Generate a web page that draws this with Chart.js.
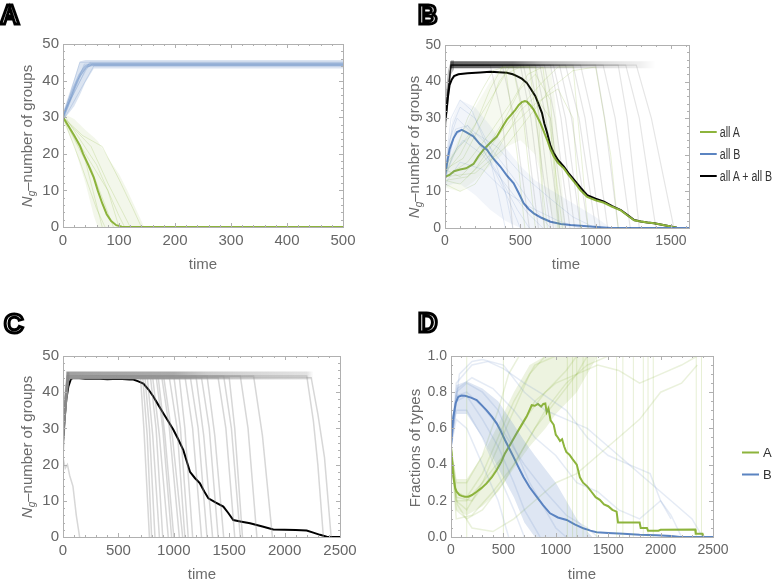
<!DOCTYPE html>
<html><head><meta charset="utf-8">
<script src="https://cdn.jsdelivr.net/npm/chart.js@4.4.1/dist/chart.umd.min.js"></script>
<style>
body{margin:0;background:#fff;width:778px;height:583px;position:relative;overflow:hidden;font-family:"Liberation Sans",Arial,sans-serif;}
canvas{position:absolute;}
.letter{position:absolute;font-weight:bold;font-size:27px;line-height:27px;color:#fff;-webkit-text-stroke:3px #000;}
.ytitle{position:absolute;transform:translate(-50%,-50%) rotate(-90deg);white-space:nowrap;color:#6b6b6b;font-size:15px;}
.ytitle sub{font-size:10px;font-style:italic;vertical-align:-3px;}
.xtitle{position:absolute;transform:translate(-50%,-50%);white-space:nowrap;color:#6b6b6b;font-size:15px;}
.leg{position:absolute;font-size:13px;color:#333;white-space:nowrap;transform:translateY(-50%);}
.leg span{display:inline-block;width:17px;height:2px;vertical-align:middle;margin-right:4px;position:relative;top:-1px;}
.leg.narrow{font-size:14px;transform:translateY(-50%) scaleX(0.76);transform-origin:left center;}
.leg.narrow span{width:22px;}
</style></head><body>
<canvas id="cA" width="390" height="290" style="left:0;top:0"></canvas>
<canvas id="cB" width="388" height="290" style="left:390px;top:0"></canvas>
<canvas id="cC" width="390" height="293" style="left:0;top:290px"></canvas>
<canvas id="cD" width="388" height="293" style="left:390px;top:290px"></canvas>

<div class="letter" style="left:0px;top:2px">A</div>
<div class="letter" style="left:418px;top:2px">B</div>
<div class="letter" style="left:4px;top:311px">C</div>
<div class="letter" style="left:418px;top:310px">D</div>

<div class="ytitle" style="left:27px;top:136px"><i>N</i><sub>g</sub>–number of groups</div>
<div class="ytitle" style="left:414px;top:147px"><i>N</i><sub>g</sub>–number of groups</div>
<div class="ytitle" style="left:27px;top:447px"><i>N</i><sub>g</sub>–number of groups</div>
<div class="ytitle" style="left:414px;top:448px">Fractions of types</div>

<div class="xtitle" style="left:203px;top:263px">time</div>
<div class="xtitle" style="left:566px;top:263px">time</div>
<div class="xtitle" style="left:202px;top:573px">time</div>
<div class="xtitle" style="left:582px;top:573px">time</div>

<div class="leg narrow" style="left:700px;top:132px"><span style="background:#8db43c"></span>all A</div>
<div class="leg narrow" style="left:700px;top:154px"><span style="background:#5b84c1"></span>all B</div>
<div class="leg narrow" style="left:700px;top:176px"><span style="background:#000"></span>all A + all B</div>
<div class="leg" style="left:742px;top:452px"><span style="background:#8db43c"></span>A</div>
<div class="leg" style="left:742px;top:474px"><span style="background:#5b84c1"></span>B</div>

<script>
// ---------------- Tick values ----------------
const aTimeTicks = [0,100,200,300,400,500];
const aTimeMinor = [20,40,60,80,120,140,160,180,220,240,260,280,320,340,360,380,420,440,460,480];
const groupTicks = [0,10,20,30,40,50];
const groupMinor = [2,4,6,8,12,14,16,18,22,24,26,28,32,34,36,38,42,44,46,48];
const bTimeTicks = [0,500,1000,1500];
const bTimeMinor = [100,200,300,400,600,700,800,900,1100,1200,1300,1400,1600];
const cdTimeTicks = [0,500,1000,1500,2000,2500];
const cdTimeMinor = [100,200,300,400,600,700,800,900,1100,1200,1300,1400,1600,1700,1800,1900,2100,2200,2300,2400];
const fracTicks = [0,0.2,0.4,0.6,0.8,1.0];
const fracMinor = [0.05,0.1,0.15,0.25,0.3,0.35,0.45,0.5,0.55,0.65,0.7,0.75,0.85,0.9,0.95];

// ---------------- Panel A ----------------
const aGreenMean = [[0,30],[10,27.5],[20,25],[30,22.3],[36,20],[45,17],[55,13.5],[62,10],[70,6.5],[78,3.5],[86,1.6],[95,0.5],[105,0.1],[115,0],[500,0]];
const aBlueMean = [[0,30],[10,34],[20,38],[30,41.5],[40,43.8],[50,44.4],[500,44.4]];
// band rows: [time, low, high]
const aBlueBand = [[0,29.3,31.5],[10,31,36],[20,33,40.5],[30,36,45.2],[40,39.5,45.6],[55,43.3,45.6],[500,43.3,45.6]];
const aBlueRuns = [
  [[0,30],[30,45],[500,45]],
  [[0,30],[38,44.5],[500,44.5]],
  [[0,31],[45,44],[500,44]],
  [[0,29],[55,44],[500,44]],
  [[0,30],[25,40],[48,45],[500,45]],
  [[0,30],[15,35],[40,43],[52,44.5],[500,44.5]]
];
const aGreenBand = [[0,29,31],[20,22,29.5],[40,12,26.5],[55,3,24.5],[62,0,23.5],[80,0,19],[100,0,14.5],[115,0,10],[130,0,5],[145,0,0]];
const aGreenRuns = [
  [[0,30],[40,18],[70,0]],
  [[0,30],[50,16],[90,0]],
  [[0,31],[60,17],[100,3],[110,0]],
  [[0,30],[35,25],[70,22],[100,13],[125,5],[140,0]],
  [[0,30],[80,10],[100,0]],
  [[0,30],[30,18],[60,5],[75,0]],
  [[0,30],[50,22],[80,12],[120,0]]
];

// ---------------- Panel B ----------------
const bTotalMean = [[0,29],[10,32],[20,36],[30,39],[44,40.5],[60,41.5],[89,42],[150,42.3],[233,42.5],[300,42.7],[411,42.4],[450,42],[478,41.5],[510,40.8],[544,39.6],[570,38],[600,36],[622,33.8],[644,31.4],[660,28.5],[678,26],[700,22.5],[722,20.5],[750,18.6],[789,16.8],[820,15],[856,13.2],[900,11],[944,9],[1000,8],[1056,7.2],[1110,6],[1167,4.9],[1210,3.6],[1256,2.2],[1300,1.8],[1344,1.5],[1389,1.3],[1440,0.9],[1500,0.4],[1540,0.1],[1567,0],[1620,0]];
const bAllAMean = [[0,14],[30,14.5],[60,15.5],[100,16],[140,16.3],[189,17.5],[220,19.5],[256,21.4],[300,23.3],[344,25],[380,27.5],[411,29.6],[440,31],[467,32.3],[490,33.6],[511,34.4],[530,34.7],[544,34.5],[565,33.6],[589,32.3],[610,30.6],[633,28.7],[655,26.5],[678,24.1],[700,21.5],[722,19.5],[750,17.8],[789,16.3],[820,14.5],[856,12.7],[900,10.3],[944,8.5],[1000,7.6],[1056,6.9],[1110,5.8],[1167,4.8],[1210,3.5],[1256,2.1],[1300,1.8],[1344,1.5],[1389,1.3],[1440,0.9],[1500,0.4],[1540,0.1],[1567,0],[1620,0]];
const bAllBMean = [[0,14],[15,18],[30,21.5],[56,24.5],[80,26.2],[111,26.8],[140,26.2],[189,25],[230,23],[278,21.4],[320,19],[367,16.8],[410,14.4],[456,12.2],[490,9.5],[522,6.8],[555,5.2],[589,4],[640,2.8],[700,1.7],[770,1.1],[833,0.8],[900,0.6],[967,0.4],[1030,0.2],[1100,0],[1620,0]];
const bTotalRuns = [
  [[0,30],[40,44.5],[300,44.5],[380,30],[450,0]],
  [[0,27],[40,44.5],[380,44.5],[460,30],[560,0]],
  [[0,32],[40,44.5],[450,44.5],[530,30],[620,0]],
  [[0,28],[40,44.5],[500,44.5],[570,30],[660,0]],
  [[0,31],[40,44.5],[520,44.5],[600,30],[700,0]],
  [[0,29],[40,44.5],[560,44.5],[630,30],[720,0]],
  [[0,30],[40,44.5],[600,44.5],[670,30],[760,0]],
  [[0,26],[40,44.5],[630,44.5],[700,30],[800,0]],
  [[0,33],[40,44.5],[660,44.5],[730,30],[830,0]],
  [[0,30],[40,44.5],[700,44.5],[770,30],[860,0]],
  [[0,28],[40,44.5],[720,44.5],[800,30],[900,0]],
  [[0,31],[40,44.5],[760,44.5],[840,30],[950,0]],
  [[0,29],[40,44.5],[800,44.5],[890,30],[1000,0]],
  [[0,30],[40,44.5],[850,44.5],[930,30],[1030,0]],
  [[0,27],[40,44.5],[900,44.5],[980,30],[1080,0]],
  [[0,30],[40,44.5],[1000,44.5],[1060,30],[1150,0]],
  [[0,32],[40,44.5],[1050,44.5],[1130,30],[1230,0]],
  [[0,29],[40,44.5],[1150,44.5],[1210,30],[1290,0]],
  [[0,30],[40,44.5],[1200,44.5],[1290,30],[1400,0]],
  [[0,28],[40,44.5],[1270,44.5],[1370,30],[1520,0]]
];
const bTotalStartBand = [[0,24,35],[20,33,43],[40,42,45.8],[60,43.3,45.8]];
const bAllARuns = [
  [[0,15],[100,20],[200,28],[300,38],[380,44],[450,44],[520,30],[600,0]],
  [[0,14],[150,18],[300,26],[450,35],[550,42],[650,44],[720,20],[780,0]],
  [[0,16],[100,14],[250,20],[400,30],[500,38],[600,42],[700,35],[760,0]],
  [[0,13],[100,12],[200,16],[350,25],[500,33],[650,40],[750,44],[850,44],[950,0]],
  [[0,15],[80,22],[150,30],[250,38],[320,43],[400,44],[480,20],[530,0]],
  [[0,14],[200,15],[400,22],[550,30],[700,38],[850,43],[1000,44],[1100,20],[1150,0]],
  [[0,17],[150,25],[300,35],[400,42],[500,44],[600,44],[650,10],[680,0]],
  [[0,12],[100,10],[200,12],[300,18],[400,25],[500,32],[600,36],[700,30],[750,0]],
  [[0,16],[120,19],[260,30],[360,40],[430,44],[560,44],[620,25],[660,0]],
  [[0,13],[150,14],[300,20],[450,28],[600,34],[750,38],[850,30],[900,0]]
];
const bAllABand = [[0,11,17],[100,10,25],[200,13,33],[300,17,40],[380,20,44],[400,22,44],[500,24,44],[600,20,44],[700,5,44],[730,0,35],[760,0,20],[800,0,0]];
const bAllBRuns = [
  [[0,15],[50,28],[100,33],[200,30],[300,22],[400,10],[450,0]],
  [[0,14],[60,25],[150,28],[300,22],[450,14],[600,5],[700,0]],
  [[0,13],[50,20],[120,24],[250,20],[400,12],[550,4],[650,0]],
  [[0,16],[40,30],[100,35],[180,32],[280,22],[350,10],[400,0]],
  [[0,14],[80,22],[200,26],[350,22],[500,15],[700,8],[850,3],[1000,0]],
  [[0,15],[70,27],[150,28],[300,18],[420,8],[500,0]],
  [[0,12],[100,18],[250,16],[400,10],[550,6],[750,2],[900,0]],
  [[0,15],[30,24],[80,30],[200,25],[350,15],[480,5],[560,0]]
];
const bAllBBand = [[0,11,17],[50,12,30],[100,12,35],[200,9,33],[300,5,28],[400,2,22],[500,0,17],[600,0,13],[800,0,8],[1000,0,3],[1100,0,0]];

// ---------------- Panel C ----------------
const cMean = [[0,26.3],[15,33],[30,38],[48,41.5],[70,43.5],[93,44.1],[200,43.7],[300,43.8],[400,43.6],[500,43.7],[600,43.5],[635,43.5],[680,43],[725,42.4],[770,40.8],[815,38.8],[860,36.5],[905,34.2],[950,32],[996,29.6],[1040,27],[1086,24],[1116,21],[1146,18],[1190,16.3],[1236,14.8],[1275,12.6],[1312,10.7],[1380,9.5],[1447,8.4],[1490,6.7],[1537,4.7],[1600,4.3],[1688,3.8],[1800,2.9],[1898,2.1],[2000,2.0],[2100,1.9],[2199,1.8],[2259,1.2],[2320,0.6],[2380,0.1],[2440,0],[2500,0]];
const cRuns = [
  [[0,30],[45,44.5],[700,44],[730,30],[780,0]],
  [[0,28],[50,44.5],[720,44],[760,28],[800,0]],
  [[0,25],[45,44],[740,44],[780,30],[830,0]],
  [[0,32],[40,44.5],[760,44.5],[810,28],[870,0]],
  [[0,27],[50,44],[790,44],[840,30],[900,0]],
  [[0,30],[45,44.5],[810,44],[870,28],[950,0]],
  [[0,29],[45,44.5],[840,44.5],[900,30],[980,0]],
  [[0,31],[40,44],[860,44],[920,28],[1000,0]],
  [[0,26],[50,44.5],[890,44.5],[960,30],[1050,0]],
  [[0,30],[45,44],[910,44],[990,27],[1080,0]],
  [[0,28],[45,44.5],[960,44],[1030,30],[1100,0]],
  [[0,33],[40,44.5],[1000,44.5],[1060,30],[1130,0]],
  [[0,27],[45,44],[1050,44],[1100,30],[1170,0]],
  [[0,30],[45,44.5],[1100,44.5],[1170,30],[1250,0]],
  [[0,29],[45,44],[1150,44],[1220,30],[1300,0]],
  [[0,31],[40,44.5],[1200,44.5],[1270,28],[1350,0]],
  [[0,28],[45,44],[1250,44],[1320,30],[1400,0]],
  [[0,30],[45,44.5],[1300,44.5],[1370,28],[1450,0]],
  [[0,27],[50,44],[1400,44],[1470,30],[1550,0]],
  [[0,30],[45,44.5],[1450,44.5],[1520,30],[1600,0]],
  [[0,29],[45,44],[1500,44],[1550,30],[1620,0]],
  [[0,31],[40,44.5],[1600,44.5],[1670,30],[1750,0]],
  [[0,28],[45,44],[1720,44.5],[1800,28],[1890,0]],
  [[0,30],[45,44.5],[2200,44.5],[2260,32],[2300,20],[2350,0]],
  [[0,29],[45,44],[2240,44],[2300,34],[2360,22],[2420,0]],
  [[0,22],[20,19],[40,20],[60,17],[90,14],[120,6],[150,0]]
];
const cStartBand = [[0,18,35],[20,30,42],[35,38,45.5],[60,43.5,45.5]];

// ---------------- Panel D ----------------
const dAMean = [[0,0.5],[10,0.42],[22,0.333],[40,0.27],[54,0.25],[80,0.232],[102,0.227],[130,0.222],[165,0.223],[200,0.232],[245,0.25],[290,0.27],[340,0.296],[390,0.33],[436,0.37],[480,0.415],[515,0.462],[570,0.515],[627,0.573],[680,0.625],[722,0.665],[770,0.728],[800,0.725],[830,0.735],[860,0.72],[881,0.735],[900,0.738],[913,0.69],[930,0.71],[950,0.645],[980,0.62],[1000,0.565],[1020,0.55],[1040,0.53],[1060,0.54],[1080,0.5],[1100,0.47],[1130,0.455],[1160,0.43],[1200,0.40],[1230,0.33],[1260,0.30],[1300,0.28],[1340,0.25],[1380,0.22],[1420,0.205],[1460,0.18],[1500,0.17],[1540,0.15],[1580,0.14],[1594,0.08],[1800,0.08],[1810,0.05],[1870,0.05],[1880,0.035],[1980,0.035],[2000,0.04],[2330,0.042],[2335,0.018],[2400,0.018],[2410,0],[2500,0]];
const dBMean = [[0,0.5],[10,0.6],[22,0.665],[45,0.74],[70,0.775],[100,0.782],[134,0.78],[190,0.77],[245,0.757],[290,0.73],[340,0.70],[390,0.665],[436,0.628],[475,0.585],[515,0.536],[555,0.49],[595,0.444],[640,0.39],[690,0.333],[750,0.275],[817,0.223],[880,0.175],[945,0.131],[1020,0.108],[1104,0.094],[1180,0.07],[1263,0.048],[1330,0.035],[1390,0.026],[1500,0.022],[1644,0.018],[1800,0.013],[1962,0.01],[2100,0.005],[2185,0],[2500,0]];
const dBRuns = [
  [[0,0.5],[50,0.8],[150,0.85],[300,0.8],[450,0.7],[600,0.5],[750,0.3],[900,0.15],[1000,0.05],[1100,0]],
  [[0,0.5],[50,0.75],[150,0.78],[300,0.65],[450,0.5],[600,0.3],[700,0.15],[800,0.05],[850,0]],
  [[0,0.5],[50,0.85],[200,0.95],[350,0.97],[500,0.93],[700,0.85],[900,0.78],[1100,0.7],[1300,0.55],[1500,0.45],[1700,0.4],[1900,0.3],[2100,0.2],[2300,0.1],[2400,0]],
  [[0,0.5],[50,0.7],[150,0.7],[300,0.55],[450,0.35],[600,0.15],[700,0]],
  [[0,0.5],[60,0.82],[200,0.88],[400,0.82],[600,0.7],[800,0.55],[1000,0.45],[1200,0.3],[1400,0.25],[1600,0.15],[1800,0.1],[2000,0.2],[2100,0.12],[2200,0]],
  [[0,0.5],[50,0.78],[150,0.8],[300,0.72],[500,0.58],[700,0.4],[900,0.25],[1100,0.12],[1300,0.05],[1400,0]],
  [[0,0.5],[50,0.65],[150,0.6],[300,0.4],[450,0.2],[550,0]],
  [[0,0.5],[80,0.9],[200,0.97],[300,0.98],[500,0.95],[700,0.8],[900,0.7],[1100,0.65],[1300,0.6],[1500,0.5],[1700,0.4],[1900,0.35],[2000,0.2],[2100,0.1]]
];
const dARuns = [
  [[0,0.5],[50,0.2],[150,0.15],[300,0.3],[450,0.5],[600,0.7],[750,0.9],[900,1]],
  [[0,0.5],[50,0.25],[150,0.22],[300,0.35],[450,0.55],[600,0.75],[800,0.95],[1000,1]],
  [[0,0.5],[50,0.15],[150,0.1],[300,0.15],[500,0.3],[700,0.5],[900,0.7],[1100,0.85],[1300,0.95],[1500,1]],
  [[0,0.5],[50,0.3],[150,0.3],[300,0.45],[450,0.7],[550,0.9],[650,1]],
  [[0,0.5],[60,0.18],[200,0.05],[400,0.03],[600,0.1],[800,0.2],[1000,0.3],[1200,0.35],[1400,0.45],[1600,0.55],[1800,0.65],[2000,0.8],[2200,0.85],[2350,0.95]],
  [[0,0.5],[50,0.22],[200,0.2],[400,0.35],[600,0.55],[800,0.75],[1000,0.85],[1200,0.9],[1400,0.95],[1600,0.92],[1800,0.85],[2000,0.9],[2200,0.95],[2350,1]],
  [[0,0.5],[50,0.1],[200,0.12],[400,0.25],[600,0.4],[800,0.6],[1000,0.75],[1200,0.9],[1300,1]],
  [[0,0.5],[50,0.2],[150,0.2],[300,0.3],[500,0.45],[700,0.65],[900,0.8],[1100,0.92],[1200,1]]
];
const dBBand = [[0,0.5,0.5],[50,0.68,0.84],[150,0.68,0.86],[300,0.55,0.82],[450,0.38,0.75],[600,0.22,0.62],[700,0.08,0.53],[800,0,0.45],[1000,0,0.3],[1100,0,0.2],[1200,0,0.1],[1300,0,0.03],[1350,0,0]];
const dABand = [[0,0.5,0.5],[50,0.15,0.32],[150,0.12,0.32],[300,0.17,0.45],[450,0.25,0.62],[600,0.38,0.8],[750,0.5,0.95],[900,0.6,1],[1000,0.68,1],[1200,0.8,1],[1300,0.9,1],[1400,1,1]];
const dExtinctionTimes = [150,500,1110,1160,1200,1260,1300,1390,1580,1640,1740,1835,1880,1930,2340,2390];

// ---------------- Drawing helpers ----------------
const GREEN = '#8db43c', BLUE = '#5b84c1';
const gA = a => `rgba(141,180,60,${a})`;
const bA = a => `rgba(91,132,193,${a})`;
const kA = a => `rgba(0,0,0,${a})`;
const P = arr => arr.map(([x,y]) => ({x, y}));

function line(arr, color, width) {
  return {data: P(arr), showLine: true, pointRadius: 0, borderColor: color, borderWidth: width, fill: false, tension: 0};
}
function band(rows, color) {
  return [
    {data: rows.map(r => ({x: r[0], y: r[2]})), showLine: true, pointRadius: 0, borderWidth: 0, borderColor: 'rgba(0,0,0,0)', backgroundColor: color, fill: '+1', tension: 0},
    {data: rows.map(r => ({x: r[0], y: r[1]})), showLine: true, pointRadius: 0, borderWidth: 0, borderColor: 'rgba(0,0,0,0)', fill: false, tension: 0}
  ];
}
// horizontal colour fade along time (style only)
function hGrad(stops) {
  return ctx => {
    const ch = ctx.chart;
    if (!ch.chartArea) return 'rgba(0,0,0,0)';
    const xs = ch.scales.x;
    const x0 = xs.getPixelForValue(xs.min), x1 = xs.getPixelForValue(xs.max);
    const g = ch.ctx.createLinearGradient(x0, 0, x1, 0);
    stops.forEach(([t, c]) => g.addColorStop(Math.min(1, Math.max(0, (t - xs.min) / (xs.max - xs.min))), c));
    return g;
  };
}

const framePlugin = {
  id: 'frame',
  afterDatasetsDraw(chart, args, opts) {
    const {ctx, chartArea: {left, right, top, bottom}} = chart;
    const xs = chart.scales.x, ys = chart.scales.y;
    ctx.save();
    ctx.strokeStyle = '#b0b0b0';
    ctx.lineWidth = 1;
    ctx.strokeRect(Math.round(left) + 0.5, Math.round(top) + 0.5, Math.round(right - left), Math.round(bottom - top));
    ctx.beginPath();
    const tx = (vals, len) => vals.forEach(v => {
      const p = Math.round(xs.getPixelForValue(v)) + 0.5;
      ctx.moveTo(p, bottom); ctx.lineTo(p, bottom - len);
      ctx.moveTo(p, top); ctx.lineTo(p, top + len);
    });
    const ty = (vals, len) => vals.forEach(v => {
      const p = Math.round(ys.getPixelForValue(v)) + 0.5;
      ctx.moveTo(left, p); ctx.lineTo(left + len, p);
      ctx.moveTo(right, p); ctx.lineTo(right - len, p);
    });
    tx(opts.xMajor, 4); tx(opts.xMinor, 2);
    ty(opts.yMajor, 4); ty(opts.yMinor, 2);
    ctx.stroke();
    ctx.restore();
  }
};

function makeChart(id, datasets, c) {
  const canvas = document.getElementById(id);
  const W = canvas.width, H = canvas.height;
  return new Chart(canvas, {
    type: 'scatter',
    data: {datasets},
    options: {
      responsive: false, animation: false, events: [],
      layout: {padding: {left: c.left - 40, top: c.top, right: W - c.right, bottom: H - c.bottom - 30}},
      plugins: {legend: {display: false}, tooltip: {enabled: false},
        frame: {xMajor: c.xTicks, xMinor: c.xMinor, yMajor: c.yTicks, yMinor: c.yMinor}},
      scales: {
        x: {type: 'linear', min: c.xMin, max: c.xMax,
          grid: {display: false, drawTicks: false}, border: {display: false},
          ticks: {color: '#666', font: {size: c.font, family: 'Liberation Sans, Arial, sans-serif'}, padding: 5, maxRotation: 0, autoSkip: false, callback: v => String(v)},
          afterBuildTicks: s => { s.ticks = c.xTicks.map(v => ({value: v})); },
          afterFit: s => { s.height = 30; }},
        y: {type: 'linear', min: c.yMin, max: c.yMax,
          grid: {display: false, drawTicks: false}, border: {display: false},
          ticks: {color: '#666', font: {size: c.font, family: 'Liberation Sans, Arial, sans-serif'}, padding: 4, autoSkip: false, callback: c.yFmt || (v => String(v))},
          afterBuildTicks: s => { s.ticks = c.yTicks.map(v => ({value: v})); },
          afterFit: s => { s.width = 40; }}
      }
    },
    plugins: [framePlugin]
  });
}

// ---------------- Panel A ----------------
{
  const ds = [];
  ds.push(...band(aBlueBand, bA(0.22)));
  aBlueRuns.forEach(r => ds.push(line(r, bA(0.22), 1)));
  ds.push(line(aBlueMean, bA(0.4), 3));
  ds.push(...band(aGreenBand, gA(0.1)));
  aGreenRuns.forEach(r => ds.push(line(r, gA(0.22), 1)));
  ds.push(line(aGreenMean, GREEN, 2));
  makeChart('cA', ds, {left: 63, top: 44, right: 343, bottom: 227, xMin: 0, xMax: 500, yMin: 0, yMax: 50,
    xTicks: aTimeTicks, xMinor: aTimeMinor, yTicks: groupTicks, yMinor: groupMinor, font: 15});
}
// ---------------- Panel B ----------------
{
  const ds = [];
  ds.push(...band(bAllBBand, bA(0.08)));
  bAllBRuns.forEach(r => ds.push(line(r, bA(0.16), 1)));
  ds.push(...band(bAllABand, gA(0.08)));
  bAllARuns.forEach(r => ds.push(line(r, gA(0.2), 1)));
  ds.push(...band(bTotalStartBand, kA(0.25)));
  bTotalRuns.forEach(r => ds.push(line(r, kA(0.1), 1.2)));
  ds.push(line([[35,44.6],[1400,44.6]], hGrad([[0,kA(0.6)],[450,kA(0.55)],[650,kA(0.3)],[1000,kA(0.15)],[1300,kA(0.06)],[1400,kA(0)]]), 7));
  ds.push(line(bAllBMean, BLUE, 2));
  ds.push(line(bAllAMean, GREEN, 2));
  ds.push(line(bTotalMean, '#000', 2));
  makeChart('cB', ds, {left: 55, top: 45, right: 299, bottom: 228, xMin: 0, xMax: 1620, yMin: 0, yMax: 50,
    xTicks: bTimeTicks, xMinor: bTimeMinor, yTicks: groupTicks, yMinor: groupMinor, font: 14});
}
// ---------------- Panel C ----------------
{
  const ds = [];
  ds.push(...band(cStartBand, 'rgba(120,120,120,0.45)'));
  cRuns.forEach(r => ds.push(line(r, 'rgba(150,150,150,0.38)', 1.5)));
  ds.push(line([[30,44.6],[2260,44.6]], hGrad([[0,'rgba(120,120,120,0.7)'],[1000,'rgba(125,125,125,0.65)'],[1300,'rgba(140,140,140,0.45)'],[1700,'rgba(150,150,150,0.38)'],[2200,'rgba(160,160,160,0.3)'],[2260,'rgba(160,160,160,0)']]), 8));
  ds.push(line(cMean, '#000', 2));
  makeChart('cC', ds, {left: 63, top: 66, right: 340, bottom: 247, xMin: 0, xMax: 2500, yMin: 0, yMax: 50,
    xTicks: cdTimeTicks, xMinor: cdTimeMinor, yTicks: groupTicks, yMinor: groupMinor, font: 15});
}
// ---------------- Panel D ----------------
{
  const ds = [];
  const vl = [];
  dExtinctionTimes.forEach(t => { vl.push([t,0],[t,1],[t,null]); });
  ds.push(line(vl, gA(0.22), 1));
  ds.push(...band(dBBand, bA(0.2)));
  dBRuns.forEach(r => ds.push(line(r, bA(0.16), 1.5)));
  ds.push(...band(dABand, gA(0.16)));
  dARuns.forEach(r => ds.push(line(r, gA(0.18), 1.5)));
  ds.push(line(dBMean, BLUE, 2));
  ds.push(line(dAMean, GREEN, 2));
  makeChart('cD', ds, {left: 61, top: 66, right: 323, bottom: 247, xMin: 0, xMax: 2500, yMin: 0, yMax: 1,
    xTicks: cdTimeTicks, xMinor: cdTimeMinor, yTicks: fracTicks, yMinor: fracMinor, font: 14,
    yFmt: v => Number(v).toFixed(1)});
}
</script>
</body></html>
